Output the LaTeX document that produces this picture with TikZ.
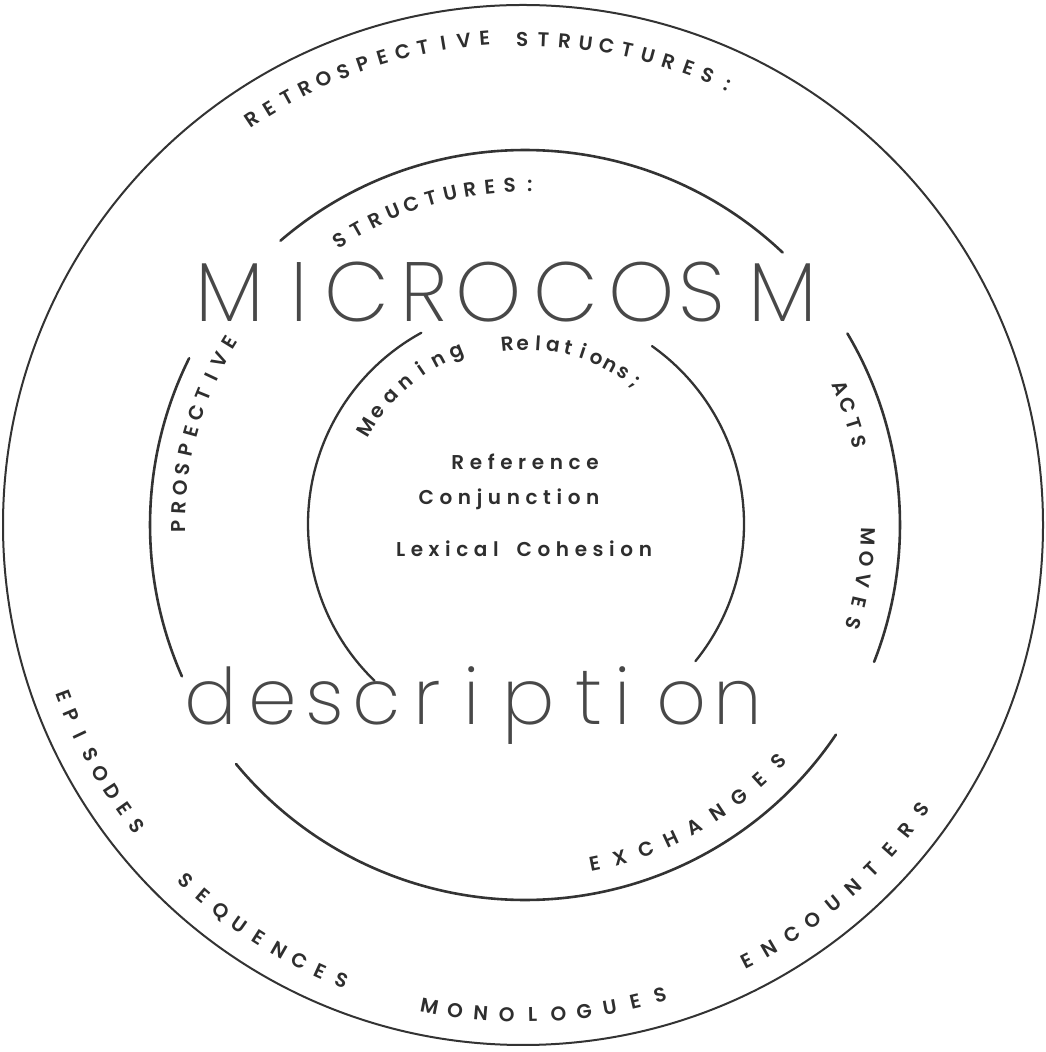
\documentclass[tikz,border=0pt]{standalone}
\usepackage{fontspec}
\setmainfont{Poppins}
\newfontfamily\lightfont{Poppins ExtraLight}
\newfontfamily\mediumfont{Poppins SemiBold}
\usetikzlibrary{calc}
\definecolor{penline}{HTML}{333333}
\definecolor{inkgray}{HTML}{2E2E2E}
\definecolor{bigink}{HTML}{484848}

% letters set one by one round a ring: name, centre, radius, first angle, step, letters
\newcommand{\ringword}[6]{%
  \foreach \ch [count=\i] in {#6} {
    \pgfmathsetmacro{\ringang}{#4+(\i-1)*(#5)}
    \pgfmathsetmacro{\ringrot}{\ringang+90*sign(#5)}
    \node[ringletter, rotate=\ringrot] (#1-\i) at ($(#2)+(\ringang:#3)$) {\ch};
  }%
}

\begin{document}
\begin{tikzpicture}[x=1pt,y=1pt,
  ringletter/.style={font=\mediumfont\fontsize{20}{20}\selectfont, text=inkgray, inner sep=0pt,
    text height=14pt, text depth=0pt},
  ringline/.style={draw=penline, line width=2.6pt, line cap=round},
  bigletter/.style={font=\lightfont\fontsize{84}{84}\selectfont, text=bigink, inner sep=0pt,
    text depth=0pt},
  smallletter/.style={font=\lightfont\fontsize{78}{78}\selectfont, text=bigink, inner sep=0pt},
  centreword/.style={font=\mediumfont\fontsize{20}{20}\selectfont\addfontfeature{LetterSpace=28},
    text=inkgray, inner sep=0pt}]
  \useasboundingbox (0,0) rectangle (1046,1052);
  \coordinate (outer) at (523,527);
  \coordinate (middle) at (525,527);
  \coordinate (inner) at (526,528);

  % outer ring
  \draw[penline, line width=2pt] (outer) circle[radius=520];
  \ringword{retro}{outer}{488}{123.8}{-2.44}{R,E,T,R,O,S,P,E,C,T,I,V,E}
  \ringword{retrostruct}{outer}{486}{90.1}{-2.5}{S,T,R,U,C,T,U,R,E,S,:}
  \ringword{episodes}{outer}{490}{200.4}{2.51}{E,P,I,S,O,D,E,S}
  \ringword{sequences}{outer}{490}{226.5}{2.725}{S,E,Q,U,E,N,C,E,S}
  \ringword{monologues}{outer}{490}{259}{3.03}{M,O,N,O,L,O,G,U,E,S}
  \ringword{encounters}{outer}{490}{297.2}{3.03}{E,N,C,O,U,N,T,E,R,S}

  % middle ring, broken by the big words
  \draw[ringline] ($(middle)+(46.6:375)$) arc[start angle=46.6, end angle=130.7, radius=375];
  \draw[ringline] ($(middle)+(153.6:375)$) arc[start angle=153.6, end angle=203.8, radius=375];
  \draw[ringline] ($(middle)+(219.6:375)$) arc[start angle=219.6, end angle=326, radius=375];
  \draw[ringline] ($(middle)+(-21.4:375)$) arc[start angle=-21.4, end angle=30.7, radius=375];
  \ringword{prosp}{middle}{347}{180.3}{-3.2}{P,R,O,S,P,E,C,T,I,V,E}
  \ringword{prospstruct}{middle}{340}{123}{-3.38}{S,T,R,U,C,T,U,R,E,S,:}
  \ringword{acts}{middle}{344}{23.5}{-3.17}{A,C,T,S}
  \ringword{moves}{middle}{343}{-2}{-3.65}{M,O,V,E,S}
  \ringword{exchanges}{middle}{346}{-78.4}{4.43}{E,X,C,H,A,N,G,E,S}

  % inner ring
  \draw[ringline, line width=2.3pt] ($(inner)+(118.7:218)$) arc[start angle=118.7, end angle=226, radius=218];
  \draw[ringline, line width=2.3pt] ($(inner)+(-39:218)$) arc[start angle=-39, end angle=54.7, radius=218];
  \ringword{meaning}{inner}{187}{149}{-6.17}{M,e,a,n,i,n,g}
  \ringword{relations}{inner}{181}{95.9}{-4.85}{R,e,l,a,t,i,o,n,s,;}

  % centre list
  \node[centreword, anchor=base] (reference) at (525,582) {Reference};
  \node[centreword, anchor=base] (conjunction) at (509,547) {Conjunction};
  \node[centreword, anchor=base] (lexical) at (524,495) {Lexical\hspace{18pt}Cohesion};

  % big words
  \foreach \ch/\x [count=\i] in {M/230, I/299, C/357, R/424, O/489, C/566, O/642, S/702, M/783}
    \node[bigletter, anchor=base] (micro-\i) at (\x,730) {\ch};
  \foreach \ch/\x [count=\i] in {d/211, e/273, s/325, c/377, r/427, i/472, p/529, t/589, i/623, o/682, n/738}
    \node[smallletter, anchor=base] (desc-\i) at (\x,327) {\ch};
\end{tikzpicture}
\end{document}
